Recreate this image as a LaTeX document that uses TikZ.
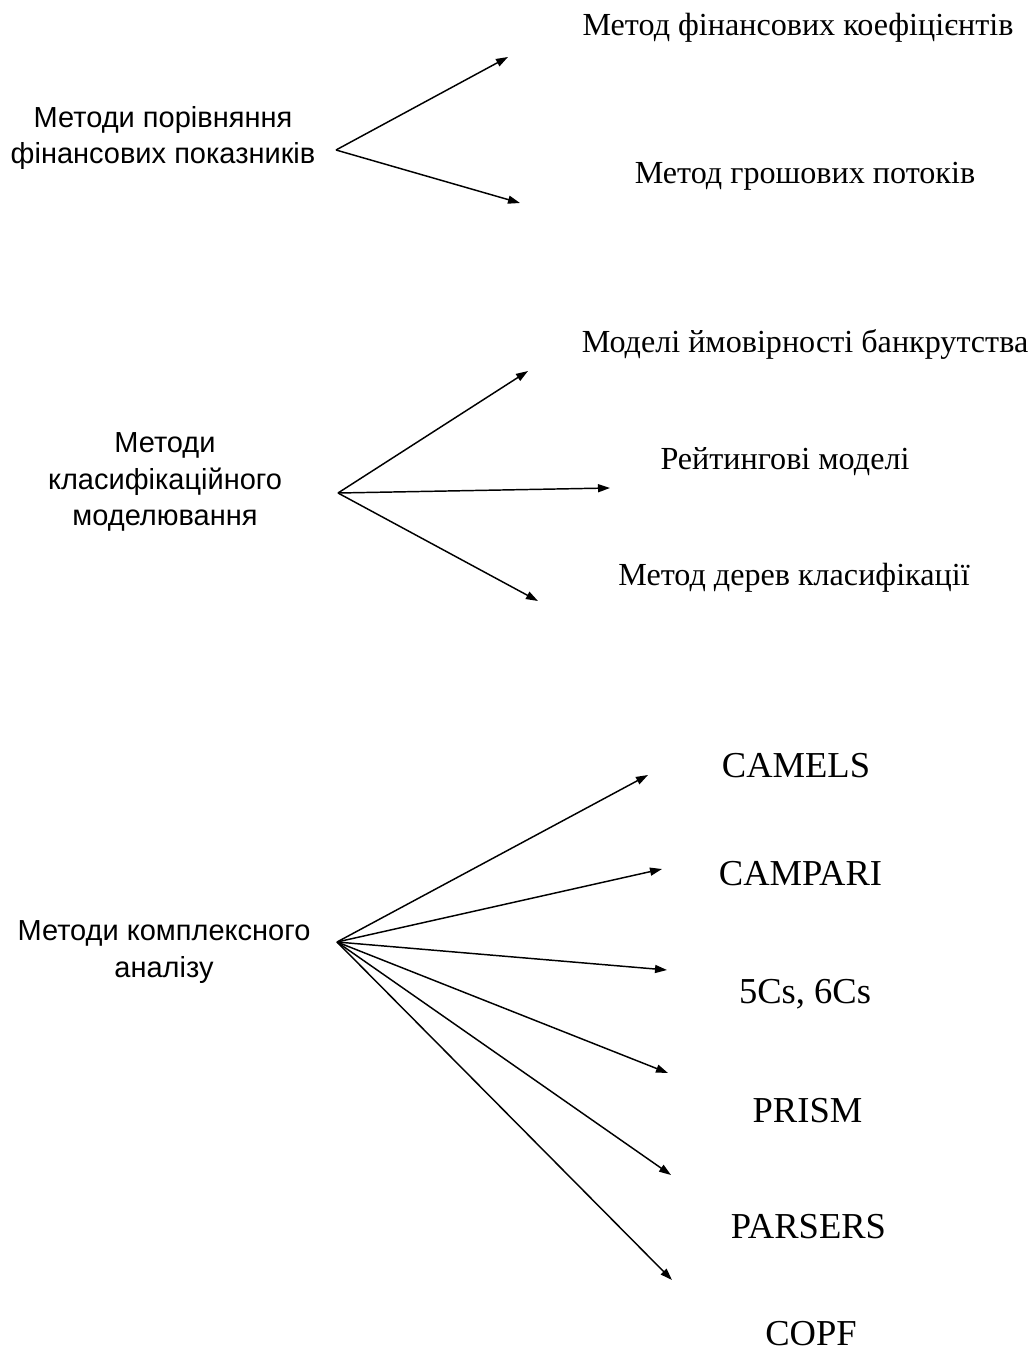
\documentclass[tikz,border=0pt]{standalone}
\usepackage{fontspec}
\setmainfont{Liberation Serif}
\setsansfont{Liberation Sans}
\usetikzlibrary{arrows.meta, positioning}

\begin{document}
\begin{tikzpicture}[x=0.75pt, y=-0.75pt,
    group/.style={align=center, inner sep=0pt, font={\sffamily\fontsize{21.75}{27.5}\selectfont}},
    item/.style={anchor=base, inner sep=0pt, font={\fontsize{24.1}{28}\selectfont}},
    abbr/.style={anchor=base, inner sep=0pt, font={\fontsize{27.4}{32}\selectfont}},
    link/.style={-{Triangle[length=9pt,width=6pt]}, line width=1.1pt}]
    \useasboundingbox (0,0) rectangle (1034,1357);

    % Nodes
    \node (compare) [group] at (163,138) {Методи порівняння\\фінансових показників};
    \node (classify) [group] at (165,482) {Методи\\класифікаційного\\моделювання};
    \node (complex) [group] at (164,952) {Методи комплексного\\аналізу};

    \node (ratios) [item] at (798,35) {Метод фінансових коефіцієнтів};
    \node (cashflow) [item] at (805,183) {Метод грошових потоків};

    \node (bankrupt) [item] at (805,352) {Моделі ймовірності банкрутства};
    \node (rating) [item] at (785,469) {Рейтингові моделі};
    \node (trees) [item] at (794,585) {Метод дерев класифікації};

    \node (camels) [abbr] at (796,777) {CAMELS};
    \node (campari) [abbr] at (800.5,885) {CAMPARI};
    \node (fivec) [abbr] at (805,1003) {5Cs, 6Cs};
    \node (prism) [abbr] at (807.5,1122) {PRISM};
    \node (parsers) [abbr] at (808.5,1238) {PARSERS};
    \node (copf) [abbr] at (811,1345) {COPF};

    % Hubs and arrow ends
    \coordinate (hub1) at (336,150);
    \coordinate (hub2) at (338,493);
    \coordinate (hub3) at (337,942);

    \coordinate (to ratios) at (508,57);
    \coordinate (to cashflow) at (520,203);
    \coordinate (to bankrupt) at (528,371);
    \coordinate (to rating) at (610,488);
    \coordinate (to trees) at (538,601);
    \coordinate (to camels) at (648,775);
    \coordinate (to campari) at (662,869);
    \coordinate (to fivec) at (667,970);
    \coordinate (to prism) at (668,1073);
    \coordinate (to parsers) at (671,1175);
    \coordinate (to copf) at (672,1280);

    % Edges
    \draw[link] (hub1) -- (to ratios);
    \draw[link] (hub1) -- (to cashflow);

    \draw[link] (hub2) -- (to bankrupt);
    \draw[link] (hub2) -- (to rating);
    \draw[link] (hub2) -- (to trees);

    \draw[link] (hub3) -- (to camels);
    \draw[link] (hub3) -- (to campari);
    \draw[link] (hub3) -- (to fivec);
    \draw[link] (hub3) -- (to prism);
    \draw[link] (hub3) -- (to parsers);
    \draw[link] (hub3) -- (to copf);
\end{tikzpicture}
\end{document}
